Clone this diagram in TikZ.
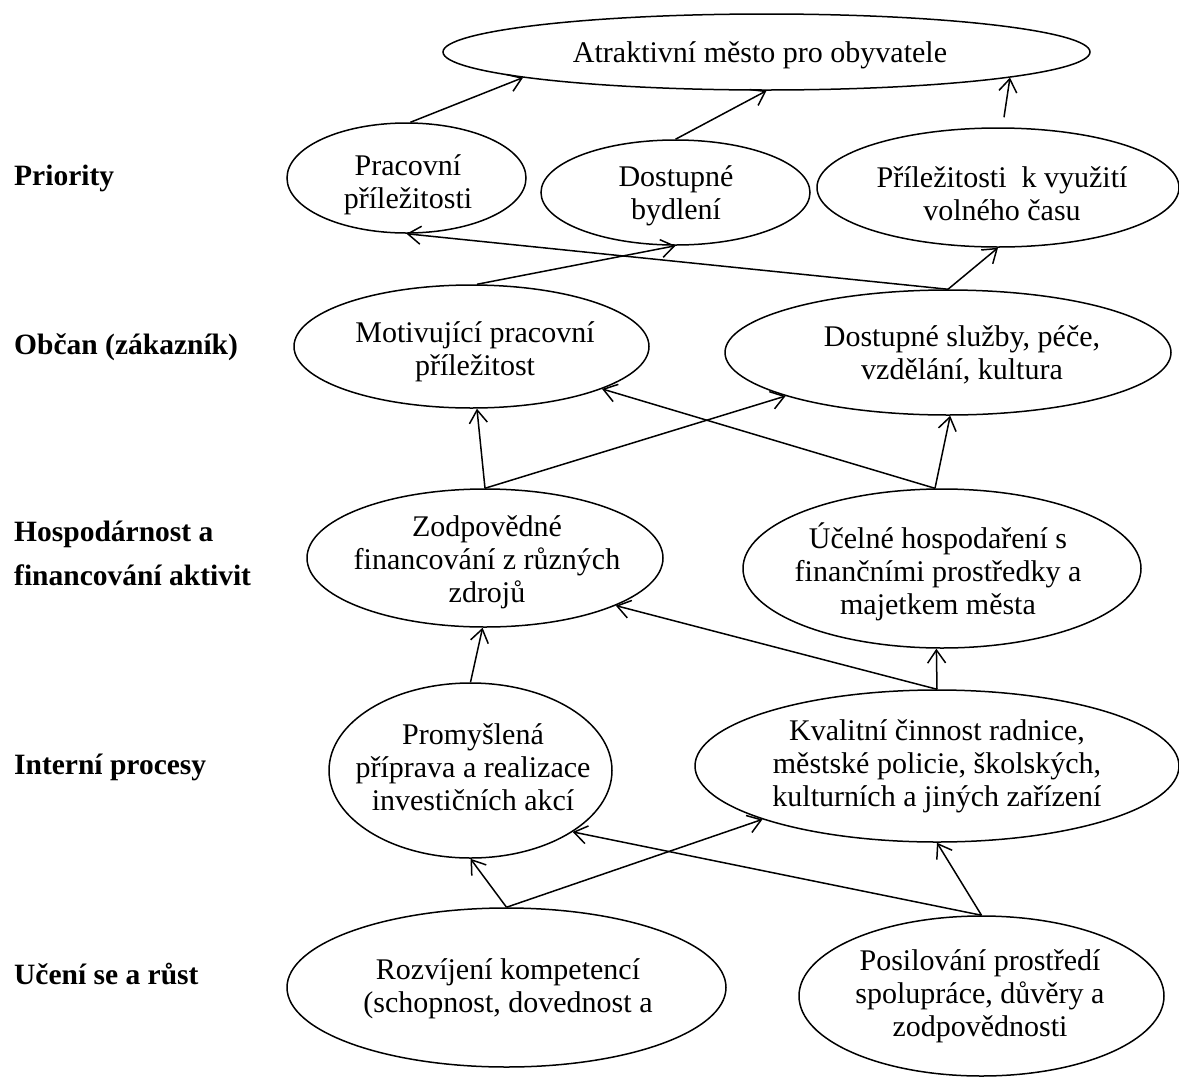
\documentclass[tikz,border=0pt]{standalone}
\usepackage{fontspec}
\setmainfont{Liberation Serif}
\usetikzlibrary{arrows.meta,shapes.geometric}
\begin{document}
\begin{tikzpicture}[x=1pt,y=-1pt,
  ell/.style={draw, ellipse, line width=1.5pt, inner sep=0pt},
  txt/.style={font=\fontsize{30}{33}\selectfont, align=center, inner sep=0pt},
  lbl/.style={font=\fontsize{29.5}{44}\selectfont\bfseries, align=left, anchor=west, inner sep=0pt},
  arr/.style={line width=1.5pt, -{Straight Barb[length=13pt,width=18pt]}},
]
\useasboundingbox (0,0) rectangle (1179,1077);

% ellipses
\node[ell, minimum width=647pt, minimum height=76pt]  (top) at (766.5,52) {};
\node[ell, minimum width=239pt, minimum height=110pt] (pr)  at (406.5,178) {};
\node[ell, minimum width=269pt, minimum height=105pt] (db)  at (675.5,192.5) {};
\node[ell, minimum width=362pt, minimum height=119pt] (pz)  at (998,187.5) {};
\node[ell, minimum width=355pt, minimum height=123pt] (mo)  at (471.5,346.5) {};
\node[ell, minimum width=446pt, minimum height=125pt] (ds)  at (948,352.5) {};
\node[ell, minimum width=356pt, minimum height=138pt] (zf)  at (485,558) {};
\node[ell, minimum width=398pt, minimum height=159pt] (uh)  at (942,568.5) {};
\node[ell, minimum width=283pt, minimum height=175pt] (pp)  at (470.5,770.5) {};
\node[ell, minimum width=484pt, minimum height=152pt] (kv)  at (937,766) {};
\node[ell, minimum width=439pt, minimum height=159pt] (rk)  at (506.5,987.5) {};
\node[ell, minimum width=365pt, minimum height=160pt] (ps)  at (981.5,996) {};

% texts
\node[txt] (ttop) at (760,55) {Atraktivní město pro obyvatele};
\node[txt] (tpr) at (408,185) {Pracovní\\příležitosti};
\node[txt] (tdb) at (676,196) {Dostupné\\bydlení};
\node[txt] (tpz) at (1002,193.5) {Příležitosti~ k využití\\volného času};
\node[txt] (tmo) at (475,352) {Motivující pracovní\\příležitost};
\node[txt] (tds) at (962,354.5) {Dostupné služby, péče,\\vzdělání, kultura};
\node[txt] (tzf) at (487,562) {Zodpovědné\\financování z různých\\zdrojů};
\node[txt] (tuh) at (938,571.5) {Účelné hospodaření s\\finančními prostředky a\\majetkem města};
\node[txt] (tpp) at (473,767.5) {Promyšlená\\příprava a realizace\\investičních akcí};
\node[txt] (tkv) at (937,766.5) {Kvalitní činnost radnice,\\městské policie, školských,\\kulturních a jiných zařízení};
\node[txt] (trk) at (508,988.5) {Rozvíjení kompetencí\\(schopnost, dovednost a};
\node[txt] (tps) at (980,996.5) {Posilování prostředí\\spolupráce, důvěry a\\zodpovědnosti};

% left labels
\node[lbl] (l1) at (14,178) {Priority};
\node[lbl] (l2) at (14,347) {Občan (zákazník)};
\node[lbl] (l3) at (14,553) {Hospodárnost a\\financování aktivit};
\node[lbl] (l4) at (14,767) {Interní procesy};
\node[lbl] (l5) at (14,974) {Učení se a růst};

% connectors
\draw[arr] (pr.86) -- (top.186.9);
\draw[arr] (db.north) -- (top.south);
\draw[arr] ([shift={(6,-10)}]pz.north) -- (top.-6.9);
\draw[arr] (ds.north) -- (pz.south);
\draw[arr] (ds.north) -- (pr.south);
\draw[arr] (mo.85) -- (db.south);
\draw[arr] (zf.north) -- (mo.-85);
\draw[arr] (zf.north) -- (ds.195.6);
\draw[arr] (uh.95) -- (ds.-88);
\draw[arr] (uh.95) -- (mo.-18.3);
\draw[arr] (pp.north) -- (zf.-92);
\draw[arr] (kv.north) -- (uh.-94);
\draw[arr] (kv.north) -- (zf.-20.6);
\draw[arr] (rk.north) -- (pp.south);
\draw[arr] (rk.north) -- (kv.197.2);
\draw[arr] (ps.north) -- (kv.south);
\draw[arr] (ps.north) -- (pp.-31.2);
\end{tikzpicture}
\end{document}
